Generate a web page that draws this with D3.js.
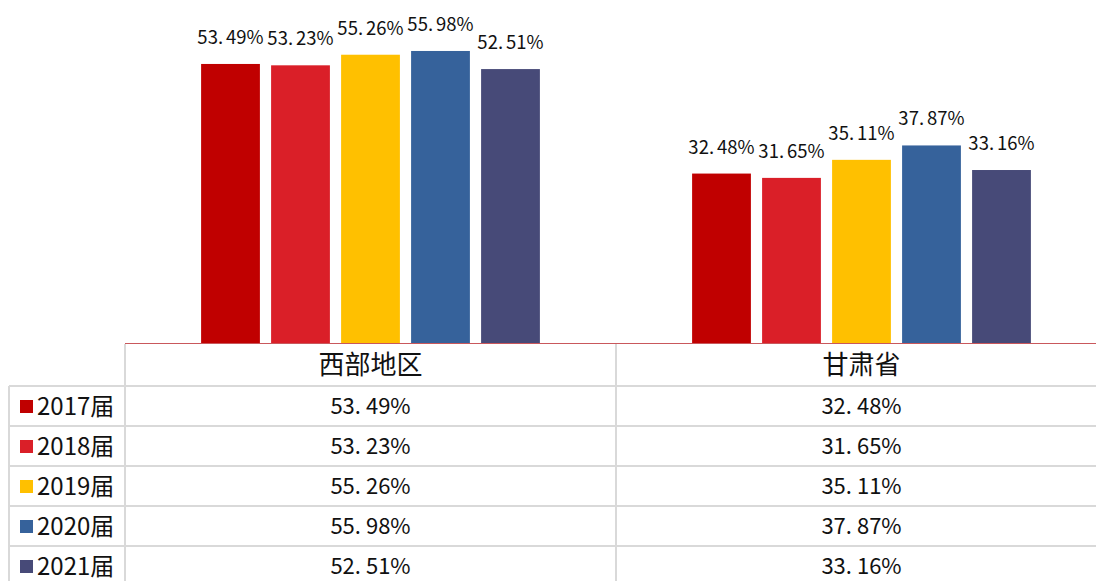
<!DOCTYPE html>
<html>
<head>
<meta charset="utf-8">
<script src="https://cdn.jsdelivr.net/npm/d3@7/dist/d3.min.js"></script>
<style>
  html, body { margin: 0; padding: 0; background: #fff; }
  svg { display: block; }
  text { font-family: "Noto Sans CJK SC", "DejaVu Sans", sans-serif; fill: #111; }
</style>
</head>
<body>
<svg id="chart" width="1096" height="581"></svg>
<script>
// Categories, series and values
const categories = ["西部地区", "甘肃省"];
const years = ["2017届", "2018届", "2019届", "2020届", "2021届"];
const westValues  = [53.49, 53.23, 55.26, 55.98, 52.51];
const gansuValues = [32.48, 31.65, 35.11, 37.87, 33.16];
const colors = ["#C00000", "#DA1F28", "#FFC000", "#36629B", "#474A78"];

const seriesValues = [westValues, gansuValues];

const svg = d3.select("#chart");

// Layout
const plotLeft = 125, plotRight = 1107;
const baseY = 343, topY = 30;
const tableTop = 344, headerH = 42, rowH = 40, legendLeft = 9;

const x0 = d3.scaleBand().domain(categories).range([plotLeft, plotRight]);
const bw = x0.bandwidth();
const x1 = d3.scaleBand().domain(years)
  .range([bw * 0.155, bw * 0.845])
  .paddingInner(0.16);
const y = d3.scaleLinear().domain([0, 60]).range([baseY, topY]);
const color = d3.scaleOrdinal().domain(years).range(colors);

// Percent text with a wide gap after the decimal point
function writePct(sel, v, gap) {
  const s = v.toFixed(2);
  const k = s.indexOf(".");
  sel.append("tspan").text(s.slice(0, k + 1));
  sel.append("tspan").attr("dx", gap).text(s.slice(k + 1) + "%");
}

// Bars
const groups = svg.append("g").selectAll("g")
  .data(categories)
  .join("g")
  .attr("transform", d => `translate(${x0(d)},0)`);

groups.selectAll("rect")
  .data((c, i) => years.map((yr, j) => ({ yr, v: seriesValues[i][j] })))
  .join("rect")
  .attr("x", d => x1(d.yr))
  .attr("y", d => y(d.v))
  .attr("width", x1.bandwidth())
  .attr("height", d => baseY - y(d.v))
  .attr("fill", d => color(d.yr));

// Value labels above the bars
groups.selectAll("text.lbl")
  .data((c, i) => years.map((yr, j) => ({ yr, v: seriesValues[i][j] })))
  .join("text")
  .attr("class", "lbl")
  .attr("x", d => x1(d.yr) + x1.bandwidth() / 2)
  .attr("y", d => y(d.v) - 20)
  .attr("text-anchor", "middle")
  .attr("font-size", 18.5)
  .each(function (d) { writePct(d3.select(this), d.v, 3); });

// Data table under the chart
const grid = svg.append("g").attr("stroke", "#D9D9D9").attr("stroke-width", 2);
const tableBottom = tableTop + headerH + rowH * years.length;

// horizontal lines
grid.append("line")
  .attr("x1", legendLeft).attr("x2", plotRight)
  .attr("y1", tableTop + headerH).attr("y2", tableTop + headerH);
years.forEach((yr, i) => {
  const yy = tableTop + headerH + rowH * (i + 1);
  grid.append("line")
    .attr("x1", legendLeft).attr("x2", plotRight)
    .attr("y1", yy).attr("y2", yy);
});

// vertical lines
grid.append("line")
  .attr("x1", legendLeft).attr("x2", legendLeft)
  .attr("y1", tableTop + headerH).attr("y2", tableBottom);
[plotLeft, x0(categories[1])].forEach(xx => {
  grid.append("line")
    .attr("x1", xx).attr("x2", xx)
    .attr("y1", tableTop).attr("y2", tableBottom);
});

// category axis line
svg.append("line")
  .attr("x1", plotLeft).attr("x2", plotRight)
  .attr("y1", baseY + 0.5).attr("y2", baseY + 0.5)
  .attr("stroke", "#C9585C").attr("stroke-width", 1.2);

// header cells
svg.append("g").selectAll("text")
  .data(categories)
  .join("text")
  .attr("x", d => x0(d) + bw / 2)
  .attr("y", tableTop + headerH / 2)
  .attr("dy", "0.36em")
  .attr("text-anchor", "middle")
  .attr("font-size", 26)
  .text(d => d);

// rows: legend key + values
const rows = svg.append("g").selectAll("g")
  .data(years)
  .join("g")
  .attr("transform", (d, i) => `translate(0,${tableTop + headerH + rowH * i + rowH / 2})`);

rows.append("rect")
  .attr("x", 20).attr("y", -6)
  .attr("width", 13).attr("height", 13)
  .attr("fill", d => color(d));

rows.append("text")
  .attr("x", 37)
  .attr("dy", "0.36em")
  .attr("font-size", 24)
  .text(d => d);

rows.selectAll("text.val")
  .data((yr, j) => categories.map((c, i) => ({ c, v: seriesValues[i][j] })))
  .join("text")
  .attr("class", "val")
  .attr("x", d => x0(d.c) + bw / 2)
  .attr("dy", "0.36em")
  .attr("text-anchor", "middle")
  .attr("font-size", 22)
  .each(function (d) { writePct(d3.select(this), d.v, 5); });
</script>
</body>
</html>
